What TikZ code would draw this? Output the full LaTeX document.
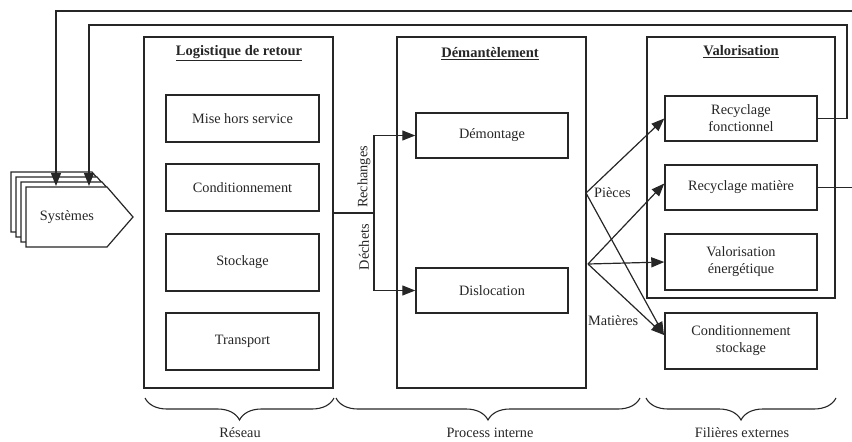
\documentclass[tikz,border=0pt]{standalone}
\usepackage{fontspec}
\setmainfont{Liberation Serif}
\usetikzlibrary{arrows.meta,decorations.pathreplacing}
\begin{document}
\begin{tikzpicture}[x=1pt,y=-1pt,
  every node/.style={font=\fontsize{14.3}{17}\selectfont, text=black!85},
  frame/.style={draw=black!85, line width=1.4pt, inner sep=0pt},
  bigbox/.style={frame, minimum width=189pt},
  smallbox/.style={frame, fill=white, minimum width=153pt, align=center},
  title/.style={font=\fontsize{14.5}{17}\selectfont\bfseries},
  conn/.style={draw=black!85, line width=1.2pt},
  arr/.style={conn, -{Triangle[length=13pt,width=10pt]}},
  lbl/.style={inner sep=0pt},
  bracestyle/.style={draw=black!85, line width=1.1pt, decorate, decoration={brace, amplitude=22pt}}
]
\useasboundingbox (0,0) rectangle (852,442);

% big frames
\node[bigbox, minimum height=351pt] (log) at (238.5,212.5) {};
\node[bigbox, minimum height=351pt] (dem) at (491.5,212.5) {};
\node[bigbox, minimum width=188pt, minimum height=261pt] (val) at (741,167.5) {};

\node[title] (tlog) at (239,53) {\underline{Logistique de retour}};
\node[title] (tdem) at (490,54) {\underline{Démantèlement}};
\node[title] (tval) at (741,52) {\underline{Valorisation}};

% Logistique boxes
\node[smallbox, minimum height=47pt] (mhs) at (242.5,118.5) {Mise hors service};
\node[smallbox, minimum height=47pt] (cond) at (242.5,187.5) {Conditionnement};
\node[smallbox, minimum height=57pt] (stock) at (242.5,262.5) {Stockage};
\node[smallbox, minimum height=57pt] (trans) at (242.5,341.5) {Transport};

% Demantelement boxes
\node[smallbox, minimum width=152pt, minimum height=45pt] (demo) at (492,135.5) {Démontage};
\node[smallbox, minimum width=152pt, minimum height=45pt] (disl) at (492,290.5) {Dislocation};

% Valorisation boxes
\node[smallbox, minimum width=152pt, minimum height=45pt] (rf) at (741,118.5) {Recyclage\\fonctionnel};
\node[smallbox, minimum width=152pt, minimum height=45pt] (rm) at (741,187.5) {Recyclage matière};
\node[smallbox, minimum width=152pt, minimum height=56pt] (ve) at (741,262) {Valorisation\\énergétique};
\node[smallbox, minimum width=152pt, minimum height=56pt] (cs) at (741,341) {Conditionnement\\stockage};

% Systemes stacked shape
\foreach \k in {15,10,5,0}{
  \draw[draw=black!85, line width=1.2pt, fill=white]
    (26-\k,187-\k) -- (107-\k,187-\k) -- (133-\k,217-\k) -- (107-\k,247-\k) -- (26-\k,247-\k) -- cycle;
}
\node (sys) at (67,217) {Systèmes};
\coordinate (sysA) at (56,186);
\coordinate (sysB) at (89,186);

% feedback loops
\coordinate (c1) at (847,25);
\coordinate (c2) at (860,11);
\draw[arr] (rf.east) -| (c1) -| (sysB);
\draw[arr] (rm.east) -| (c2) -| (sysA);

% Logistique -> Demantelement
\coordinate (j) at (374,213);
\draw[conn] (log.east |- j) -- (j);
\draw[arr] (j) |- (demo.west);
\draw[arr] (j) |- (disl.west);
\node[lbl, rotate=90] (rech) at (364,177) {Rechanges};
\node[lbl, rotate=90] (dech) at (364,247) {Déchets};

% Demantelement -> Valorisation
\coordinate (p1) at (586,193);
\coordinate (p2) at (588,264);
\coordinate (csin) at (664,335);
\draw[arr] (p1) -- (rf.west);
\draw[arr] (p1) -- (csin);
\draw[arr] (p2) -- ([yshift=4pt]rm.west);
\draw[arr] (p2) -- (ve.west);
\draw[arr] (p2) -- (csin);
\node[lbl, anchor=west] (pieces) at (594,193) {Pièces};
\node[lbl, anchor=west] (mat) at (588,321) {Matières};

% braces
\draw[bracestyle] (334,398) -- (145,398);
\draw[bracestyle] (640,398) -- (336,398);
\draw[bracestyle] (836,398) -- (646,398);
\node (res) at (240,433) {Réseau};
\node (proc) at (490,433) {Process interne};
\node (fil) at (742,433) {Filières externes};
\end{tikzpicture}
\end{document}
